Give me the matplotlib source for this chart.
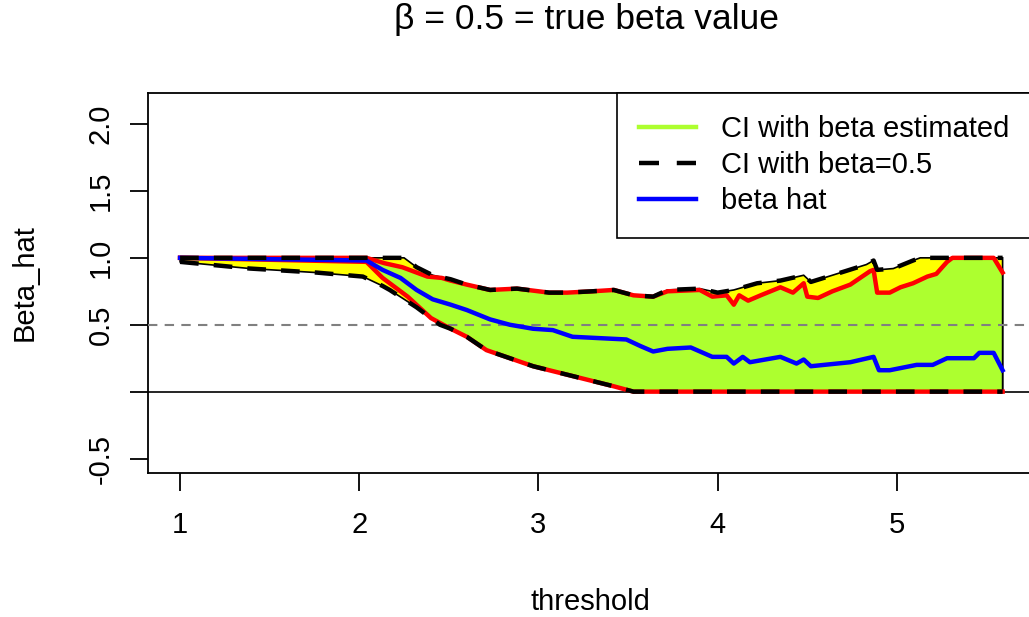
import numpy as np
import matplotlib
matplotlib.use("Agg")
import matplotlib.pyplot as plt
from matplotlib.lines import Line2D

plt.rcParams['font.family'] = ['Liberation Sans', 'DejaVu Sans']

#%% data
# CI with beta fixed at 0.5 (black dashed bounds, yellow fill)
ci05_up_x = [1.0, 2.25, 2.32, 2.41, 2.51, 2.60, 2.73, 2.88, 3.06, 3.16, 3.30, 3.42, 3.53,
             3.64, 3.72, 3.90, 4.00, 4.09, 4.22, 4.35, 4.48, 4.52, 4.64, 4.83, 4.87, 4.89,
             4.98, 5.09, 5.13, 5.59]
ci05_up_y = [1.0, 1.0, 0.93, 0.87, 0.84, 0.80, 0.76, 0.77, 0.74, 0.74, 0.75, 0.76, 0.72,
             0.71, 0.76, 0.77, 0.74, 0.76, 0.81, 0.83, 0.87, 0.82, 0.87, 0.95, 0.98, 0.91,
             0.92, 0.98, 1.0, 1.0]
ci05_lo_x = [1.0, 1.39, 1.76, 2.02, 2.13, 2.17, 2.32, 2.45, 2.51, 2.60, 2.71, 2.84, 2.97,
             3.12, 3.27, 3.42, 3.53, 5.59]
ci05_lo_y = [0.97, 0.92, 0.89, 0.86, 0.79, 0.76, 0.63, 0.50, 0.47, 0.41, 0.31, 0.25, 0.19,
             0.14, 0.09, 0.04, 0.0, 0.0]

# CI with beta estimated (red bounds, green fill)
est_up_x = [1.0, 2.04, 2.14, 2.24, 2.38, 2.46, 2.51, 2.60, 2.73, 2.88, 3.06, 3.16, 3.30,
            3.42, 3.53, 3.64, 3.72, 3.90, 3.97, 4.05, 4.09, 4.12, 4.17, 4.24, 4.35, 4.42,
            4.48, 4.50, 4.56, 4.64, 4.74, 4.85, 4.87, 4.89, 4.96, 5.02, 5.09, 5.17, 5.22,
            5.28, 5.31, 5.54, 5.59]
est_up_y = [1.0, 1.0, 0.96, 0.93, 0.86, 0.85, 0.83, 0.80, 0.76, 0.77, 0.74, 0.74, 0.75,
            0.76, 0.72, 0.71, 0.75, 0.76, 0.71, 0.72, 0.65, 0.72, 0.68, 0.72, 0.78, 0.74,
            0.81, 0.71, 0.70, 0.75, 0.80, 0.90, 0.91, 0.74, 0.74, 0.78, 0.81, 0.86, 0.88,
            0.97, 1.0, 1.0, 0.89]
est_lo_x = [1.0, 2.04, 2.13, 2.27, 2.40, 2.51, 2.60, 2.71, 2.84, 2.97, 3.12, 3.27, 3.42,
            3.53, 5.59]
est_lo_y = [1.0, 0.97, 0.85, 0.71, 0.55, 0.47, 0.41, 0.31, 0.25, 0.19, 0.14, 0.09, 0.04,
            0.0, 0.0]

# beta hat
bhat_x = [1.0, 2.04, 2.13, 2.23, 2.32, 2.41, 2.51, 2.60, 2.73, 2.84, 2.97, 3.08, 3.19,
          3.34, 3.49, 3.57, 3.64, 3.72, 3.85, 3.97, 4.05, 4.09, 4.14, 4.18, 4.35, 4.44,
          4.48, 4.52, 4.74, 4.87, 4.90, 4.96, 5.11, 5.20, 5.28, 5.43, 5.46, 5.54, 5.59]
bhat_y = [1.0, 0.98, 0.91, 0.85, 0.76, 0.69, 0.65, 0.61, 0.54, 0.50, 0.47, 0.46, 0.41,
          0.40, 0.39, 0.34, 0.30, 0.32, 0.33, 0.26, 0.26, 0.21, 0.26, 0.22, 0.26, 0.21,
          0.24, 0.19, 0.22, 0.26, 0.16, 0.16, 0.20, 0.20, 0.25, 0.25, 0.29, 0.29, 0.16]

true_beta = 0.5
xticks = [1, 2, 3, 4, 5]
yticks = [-0.5, 0.0, 0.5, 1.0, 1.5, 2.0]
ytick_labels = ['-0.5', '', '0.5', '1.0', '1.5', '2.0']

#%% plot
W, H = 1029, 617
fig = plt.figure(figsize=(W / 100, H / 100), dpi=100)
ax = fig.add_axes([148 / W, (H - 473) / H, (1032 - 148) / W, (473 - 93) / H])
ax.set_xlim(0.821, 5.754)
ax.set_ylim(-0.608, 2.232)

lw = 3.2
dash = (0, (4.2, 3.4))

ax.fill(np.r_[ci05_up_x, ci05_lo_x[::-1]], np.r_[ci05_up_y, ci05_lo_y[::-1]],
        facecolor='#FFFF00', edgecolor='black', linewidth=1.2, zorder=1)
ax.fill(np.r_[est_up_x, est_lo_x[::-1]], np.r_[est_up_y, est_lo_y[::-1]],
        facecolor='#ADFF2F', edgecolor='black', linewidth=1.2, zorder=2)

ax.axhline(0, color='black', linewidth=1.2, zorder=3)
ax.axhline(true_beta, color='grey', linewidth=1.5, linestyle=(0, (4.5, 3.5)), zorder=3)

ax.plot(est_up_x, est_up_y, color='red', linewidth=lw, zorder=4)
ax.plot(est_lo_x, est_lo_y, color='red', linewidth=lw, zorder=4)
ax.plot(bhat_x, bhat_y, color='blue', linewidth=lw, zorder=5)
ax.plot(ci05_up_x, ci05_up_y, color='black', linewidth=lw, linestyle=dash, zorder=6)
ax.plot(ci05_lo_x, ci05_lo_y, color='black', linewidth=lw, linestyle=dash, zorder=6)

for s in ax.spines.values():
    s.set_linewidth(1.3)
ax.set_xticks(xticks)
ax.set_xticklabels([str(t) for t in xticks], fontsize=21)
ax.set_yticks(yticks)
ax.set_yticklabels(ytick_labels, fontsize=21, rotation=90, va='center')
ax.tick_params(axis='both', direction='out', length=13, width=1.3)
ax.tick_params(axis='x', pad=14.5)
ax.tick_params(axis='y', pad=11)

fig.text(590 / W, 1 - 610 / H, 'threshold', fontsize=21, ha='center', va='baseline')
fig.text(33 / W, 1 - 283 / H, 'Beta_hat', fontsize=21, rotation=90,
         rotation_mode='anchor', ha='center', va='baseline')
fig.text(587 / W, 1 - 29 / H, '\u03B2 = 0.5 = true beta value', fontsize=25.5,
         ha='center', va='baseline')

handles = [Line2D([], [], color='#ADFF2F', linewidth=lw),
           Line2D([], [], color='black', linewidth=lw, linestyle=(0, (4.5, 4.0))),
           Line2D([], [], color='blue', linewidth=lw)]
leg = ax.legend(handles, ['CI with beta estimated', 'CI with beta=0.5', 'beta hat'],
                loc='upper right', bbox_to_anchor=(1, 1), borderaxespad=0,
                fontsize=21, handlelength=1.95, handletextpad=0.86,
                borderpad=0.77, labelspacing=0.27, fancybox=False, framealpha=1)
leg.get_frame().set_edgecolor('black')
leg.get_frame().set_linewidth(1.2)
leg.set_zorder(10)

fig.savefig('out.png', dpi=100)
